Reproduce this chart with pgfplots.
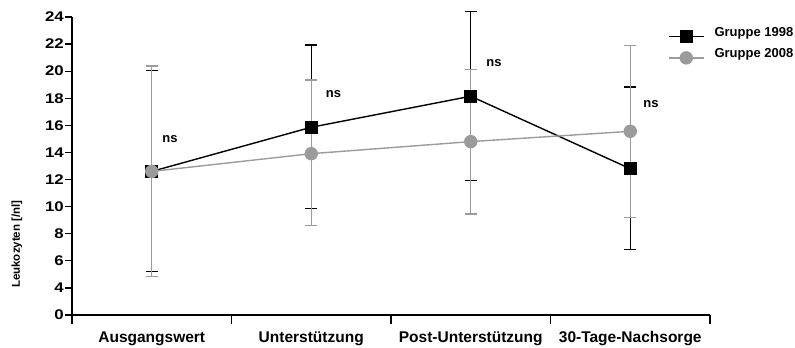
\documentclass[border=0pt]{standalone}
\usepackage{pgfplots}
\pgfplotsset{compat=1.18}
\usepackage{pgfplotstable}
\usepackage{fontspec}
\setmainfont{Liberation Sans}
\newfontfamily\tickfont{Liberation Sans}[FakeStretch=1.2]
\definecolor{grp}{RGB}{155,155,155}

% x  y  ep  em  (ep = upper error, em = lower error)
\pgfplotstableread{
x y ep em
0 12.60 7.44 7.40
1 15.86 6.07 6.01
2 18.15 6.24 6.21
3 12.80 6.03 5.98
}\gruppeA
\pgfplotstableread{
x y ep em
0 12.60 7.78 7.77
1 13.91 5.44 5.32
2 14.80 5.34 5.34
3 15.56 6.32 6.35
}\gruppeB

\begin{document}
\begin{tikzpicture}[x=1bp,y=1bp]
\begin{axis}[
  at={(0,0)}, anchor=south west,
  scale only axis, width=638bp, height=298bp,
  xmin=-0.5, xmax=3.5, ymin=2, ymax=24,
  axis lines=left,
  axis line style={line width=1.3bp,-},
  clip=false,
  tick align=outside,
  tick style={line width=1.3bp, black},
  xtick={0,1,2,3},
  xticklabels={Ausgangswert,Unterstützung,Post-Unterstützung,30-Tage-Nachsorge},
  major x tick style={draw=none},
  minor xtick={-0.5,0.5,1.5,2.5,3.5},
  minor tick length=9bp,
  major tick length=7bp,
  xticklabel style={font=\fontsize{15.5bp}{17bp}\selectfont\bfseries, yshift=-6bp},
  ytick={2,4,6,8,10,12,14,16,18,20,22,24},
  yticklabels={0,4,6,8,10,12,14,16,18,20,22,24},
  yticklabel style={font=\tickfont\fontsize{14bp}{16bp}\selectfont\bfseries, inner sep=1bp},
  ylabel={Leukozyten [/nl]},
  ylabel style={at={(axis description cs:-0.0862,0.238)}, anchor=center,
     font=\fontsize{11.5bp}{13bp}\selectfont\bfseries},
  legend style={at={(axis description cs:0.934,0.965)}, anchor=north west,
     draw=none, fill=none, inner xsep=0pt, inner ysep=0pt,
     font=\fontsize{13bp}{15bp}\selectfont\bfseries,
     row sep=6.5bp, column sep=10bp,
     nodes={inner sep=0pt, anchor=base west}},
  legend cell align=left,
  legend image code/.code={\draw[mark repeat=2,mark phase=2]
     plot coordinates {(0bp,0bp) (17.5bp,0bp) (35bp,0bp)};},
]
\addplot[black, line width=1.4bp, mark=square*, mark size=5.6bp,
   mark options={solid, fill=black},
   error bars/.cd, y dir=both, y explicit,
   error bar style={line width=1.4bp, black},
   error mark options={line width=1.4bp, black, mark size=6bp, rotate=90}]
  table[x=x, y=y, y error plus=ep, y error minus=em] {\gruppeA};
\addlegendentry{Gruppe 1998}
\addplot[grp, line width=1.4bp, mark=*, mark size=6bp,
   mark options={solid, fill=grp, draw=grp},
   error bars/.cd, y dir=both, y explicit,
   error bar style={line width=1.4bp, grp},
   error mark options={line width=1.4bp, grp, mark size=6bp, rotate=90}]
  table[x=x, y=y, y error plus=ep, y error minus=em] {\gruppeB};
\addlegendentry{Gruppe 2008}

\node[font=\fontsize{13bp}{15bp}\selectfont\bfseries] at (axis cs:0.114,15.0) {ns};
\node[font=\fontsize{13bp}{15bp}\selectfont\bfseries] at (axis cs:1.14,18.32) {ns};
\node[font=\fontsize{13bp}{15bp}\selectfont\bfseries] at (axis cs:2.146,20.6) {ns};
\node[font=\fontsize{13bp}{15bp}\selectfont\bfseries] at (axis cs:3.13,17.58) {ns};
\end{axis}
\pgfresetboundingbox
\useasboundingbox (-72,-32) rectangle (723,315);
\end{tikzpicture}
\end{document}
